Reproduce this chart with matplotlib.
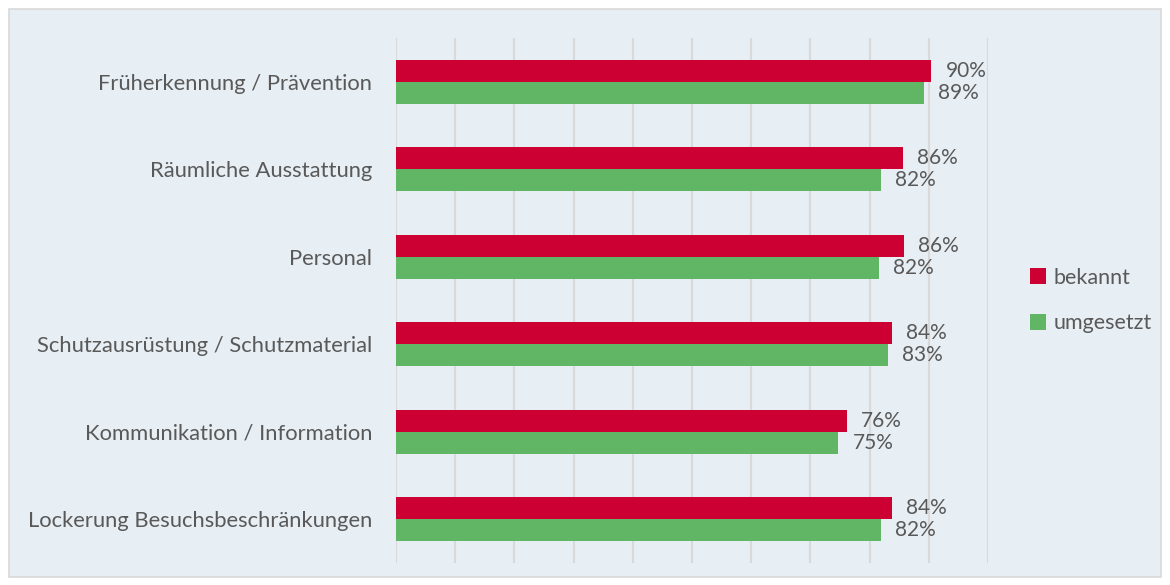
import numpy as np
import matplotlib.pyplot as plt
from matplotlib.patches import Rectangle

# categories top to bottom
categories = [
    "Früherkennung / Prävention",
    "Räumliche Ausstattung",
    "Personal",
    "Schutzausrüstung / Schutzmaterial",
    "Kommunikation / Information",
    "Lockerung Besuchsbeschränkungen",
]
bekannt = [90.4, 85.6, 85.8, 83.8, 76.2, 83.8]
umgesetzt = [89.2, 81.9, 81.6, 83.1, 74.7, 81.9]
series_names = ["bekannt", "umgesetzt"]

red = "#cc0033"
green = "#60b665"
txt = "#595959"
bg = "#e7eef4"

plt.rcParams['font.family'] = ['Lato', 'DejaVu Sans']

fig = plt.figure(figsize=(11.7, 5.85), dpi=100)
fig.patch.set_facecolor("white")
fig.patches.append(Rectangle((9 / 1170, 8 / 585), 1152 / 1170, 568 / 585,
                             transform=fig.transFigure, facecolor=bg,
                             edgecolor="#d9d9d9", linewidth=1.2, zorder=-1))

ax = fig.add_axes([396 / 1170, 22 / 585, 592 / 1170, 525 / 585])
ax.set_facecolor("none")

y = np.arange(len(categories))
h = 0.25
ax.barh(y - h / 2, bekannt, height=h, color=red, label=series_names[0], zorder=3)
ax.barh(y + h / 2, umgesetzt, height=h, color=green, label=series_names[1], zorder=3)

for i in range(len(categories)):
    ax.text(bekannt[i] + 2.4, y[i] - h / 2, "%d%%" % round(bekannt[i]),
            va="center", ha="left", fontsize=15, color=txt)
    ax.text(umgesetzt[i] + 2.4, y[i] + h / 2, "%d%%" % round(umgesetzt[i]),
            va="center", ha="left", fontsize=15, color=txt)

ax.set_xlim(0, 100)
ax.set_ylim(len(categories) - 0.5, -0.5)
ax.set_xticks(np.arange(0, 101, 10))
ax.xaxis.grid(True, color="#d9d9d9", linewidth=1.5, zorder=0)
ax.tick_params(axis="x", length=0, labelbottom=False)
ax.tick_params(axis="y", length=0, pad=17, labelsize=15.8, labelcolor=txt)
ax.set_yticks(y)
ax.set_yticklabels(categories)
for s in ax.spines.values():
    s.set_visible(False)

leg = ax.legend(loc="center left", bbox_to_anchor=(1.052, 0.5), frameon=False,
                fontsize=15.5, handlelength=0.75, handleheight=0.75,
                handletextpad=0.35, labelspacing=1.2, borderpad=0)
for t in leg.get_texts():
    t.set_color(txt)

fig.savefig("out.png", dpi=100)
